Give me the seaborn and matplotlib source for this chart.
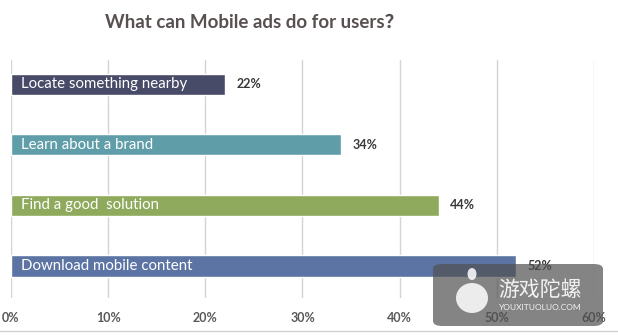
import matplotlib
matplotlib.use("Agg")
import matplotlib.pyplot as plt
from matplotlib.patches import FancyBboxPatch, Ellipse
import seaborn as sns
import pandas as pd

categories = ["Locate something nearby", "Learn about a brand",
              "Find a good  solution", "Download mobile content"]
values = [22, 34, 44, 52]
bar_colors = ["#474B68", "#5F9EA9", "#8FAA5C", "#5C74A4"]
tick_values = [0, 10, 20, 30, 40, 50, 60]
tick_labels = ["0%", "10%", "20%", "30%", "40%", "50%", "60%"]
title = "What can Mobile ads do for users？"

sns.set_theme(style="white")
plt.rcParams["font.family"] = ["Lato", "Noto Sans CJK SC", "DejaVu Sans"]

df = pd.DataFrame({"category": categories, "value": values})

W, H = 618, 336
fig = plt.figure(figsize=(W / 100, H / 100), dpi=100)
ax = fig.add_axes([11 / W, 1 - 298 / H, (594 - 11) / W, (298 - 60) / H])

sns.barplot(data=df, y="category", x="value", hue="category",
            palette=bar_colors, orient="h", width=0.35, legend=False,
            saturation=1, ax=ax, zorder=3)

ax.set_xlim(0, 60)
ax.set_ylim(3.53, -0.4)
ax.set_xticks(tick_values)
ax.set_xticklabels(tick_labels, fontsize=9, fontweight="bold", color="#595959")
ax.tick_params(axis="x", length=0, pad=10)
ax.set_yticks([])
ax.set_xlabel("")
ax.set_ylabel("")
for s in ax.spines.values():
    s.set_visible(False)
for t in tick_values:
    ax.axvline(t, color="#D6D3D3", lw=1, zorder=1)

for i, (cat, v) in enumerate(zip(categories, values)):
    ax.text(1.0, i, cat, va="center", ha="left", color="white",
            fontsize=10.8, zorder=5)
    ax.text(v + 1.2, i, f"{v}%", va="center", ha="left", color="#383838",
            fontsize=9, fontweight="bold", zorder=5)

fig.text(254 / W, 1 - 22 / H, title, ha="center", va="center",
         fontsize=13.5, fontweight="bold", color="#595050")

# bottom frame line
fig.add_artist(plt.Line2D([0, 1], [1 - 331 / H] * 2, color="#D0D0D0", lw=1,
                          transform=fig.transFigure))

# site badge
badge = FancyBboxPatch((433 / W, 1 - 326 / H), 170 / W, 62 / H,
                       boxstyle="round,pad=0,rounding_size=0.015",
                       transform=fig.transFigure, facecolor="#505050",
                       edgecolor="none", alpha=0.7, zorder=10)
fig.add_artist(badge)
fig.add_artist(Ellipse((472 / W, 1 - 298 / H), 32 / W, 30 / H,
                       transform=fig.transFigure, facecolor="white",
                       edgecolor="none", alpha=0.85, zorder=11))
fig.add_artist(Ellipse((472 / W, 1 - 274 / H), 9 / W, 12 / H,
                       transform=fig.transFigure, facecolor="white",
                       edgecolor="none", alpha=0.85, zorder=11))
fig.text(540 / W, 1 - 290 / H, "游戏陀螺", ha="center", va="center",
         fontsize=15, color="white", alpha=0.9, zorder=12,
         family=["Noto Sans CJK SC"])
fig.text(540 / W, 1 - 307 / H, "YOUXITUOLUO.COM", ha="center", va="center",
         fontsize=6, color="white", alpha=0.9, zorder=12)

fig.savefig("out.png", dpi=100)
